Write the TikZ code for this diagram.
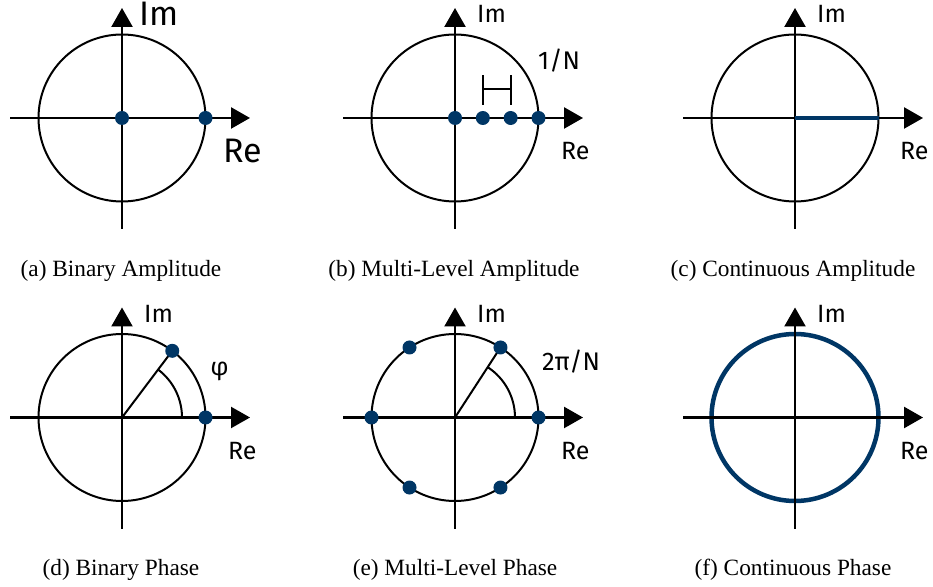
\documentclass[tikz,border=0pt]{standalone}
\usepackage{fontspec}
\setmainfont{Liberation Serif}
\newfontfamily\lblfont{Fira Sans}
\usetikzlibrary{arrows.meta,calc}
\definecolor{navy}{RGB}{0,54,101}
\tikzset{
  axisline/.style={line width=2.4pt, -{Triangle[length=19pt,width=21pt]}},
  unitcirc/.style={line width=2pt},
  dotpt/.style={fill=navy, draw=none},
  thinline/.style={line width=2pt},
  lbl/.style={inner sep=0pt, anchor=base west, font=\lblfont\fontsize{25}{30}\selectfont},
  fraclbl/.style={inner sep=0pt, anchor=base west, font=\lblfont\fontsize{25.5}{30}\selectfont},
  biglbl/.style={inner sep=0pt, anchor=base west, font=\lblfont\fontsize{34}{40}\selectfont},
  capt/.style={inner sep=0pt, anchor=base, font=\fontsize{23.3}{28}\selectfont},
}
\newcommand{\axesat}[1]{%
  \draw[axisline] ($(#1)+(-112,0)$) -- ($(#1)+(128,0)$);
  \draw[axisline] ($(#1)+(0,-111)$) -- ($(#1)+(0,110)$);
}
\begin{document}
\begin{tikzpicture}[x=1pt,y=1pt]
\useasboundingbox (0,0) rectangle (933,586);
% centers
\coordinate (ca) at (122,468);
\coordinate (cb) at (455,468);
\coordinate (cc) at (795,468);
\coordinate (cd) at (122,168.5);
\coordinate (ce) at (455,168.5);
\coordinate (cf) at (795,168.5);

% (a)
\draw[unitcirc] (ca) circle[radius=83.5];
\axesat{ca}
\fill[dotpt] (ca) circle[radius=7];
\fill[dotpt] ($(ca)+(83.5,0)$) circle[radius=7];
\node[biglbl] (ima) at ($(ca)+(17,92)$) {Im};
\node[biglbl] (rea) at ($(ca)+(101,-45)$) {Re};
\node[capt] (capa) at (121,309) {(a) Binary Amplitude};

% (b)
\draw[unitcirc] (cb) circle[radius=83.5];
\axesat{cb}
\foreach \k in {0,1,2,3}{
  \fill[dotpt] ($(cb)+(27.83*\k,0)$) circle[radius=7];
}
\draw[thinline] ($(cb)+(27.8,13)$) -- ($(cb)+(27.8,43)$);
\draw[thinline] ($(cb)+(55.7,13)$) -- ($(cb)+(55.7,43)$);
\draw[thinline] ($(cb)+(27.8,29)$) -- ($(cb)+(55.7,29)$);
\node[lbl] (imb) at ($(cb)+(22,95)$) {Im};
\node[lbl] (reb) at ($(cb)+(106,-42)$) {Re};
\node[fraclbl] (nb) at ($(cb)+(83,48)$) {1/N};
\node[capt] (capb) at (454,309) {(b) Multi-Level Amplitude};

% (c)
\draw[unitcirc] (cc) circle[radius=83.5];
\axesat{cc}
\draw[navy, line width=4.5pt] (cc) -- ($(cc)+(83.5,0)$);
\node[lbl] (imc) at ($(cc)+(22,95)$) {Im};
\node[lbl] (rec) at ($(cc)+(105,-42)$) {Re};
\node[capt] (capc) at (793,309) {(c) Continuous Amplitude};

% (d)
\draw[unitcirc] (cd) circle[radius=83.5];
\axesat{cd}
\draw[thinline] (cd) -- ($(cd)+(53:83.5)$);
\draw[thinline] ($(cd)+(60,0)$) arc[start angle=0, end angle=53, radius=60];
\fill[dotpt] ($(cd)+(53:83.5)$) circle[radius=7];
\fill[dotpt] ($(cd)+(83.5,0)$) circle[radius=7];
\node[lbl] (imd) at ($(cd)+(22,95)$) {Im};
\node[lbl] (red) at ($(cd)+(106,-42)$) {Re};
\node[inner sep=0pt, anchor=center, font=\lblfont\fontsize{25}{30}\selectfont] (phid) at ($(cd)+(97.5,46)$) {φ};
\node[capt] (capd) at (121,11) {(d) Binary Phase};

% (e)
\draw[unitcirc] (ce) circle[radius=83.5];
\axesat{ce}
\draw[thinline] (ce) -- ($(ce)+(57:83.5)$);
\draw[thinline] ($(ce)+(60,0)$) arc[start angle=0, end angle=57, radius=60];
\foreach \a in {0,57,123,180,237,303}{
  \fill[dotpt] ($(ce)+(\a:83.5)$) circle[radius=7];
}
\node[lbl] (ime) at ($(ce)+(22,95)$) {Im};
\node[lbl] (ree) at ($(ce)+(106,-42)$) {Re};
\node[fraclbl] (ne) at ($(ce)+(87,47)$) {2π/N};
\node[capt] (cape) at (455,11) {(e) Multi-Level Phase};

% (f)
\draw[navy, line width=4.5pt] (cf) circle[radius=83.5];
\axesat{cf}
\node[lbl] (imf) at ($(cf)+(22,95)$) {Im};
\node[lbl] (ref) at ($(cf)+(105,-42)$) {Re};
\node[capt] (capf) at (793,11) {(f) Continuous Phase};
\end{tikzpicture}
\end{document}
